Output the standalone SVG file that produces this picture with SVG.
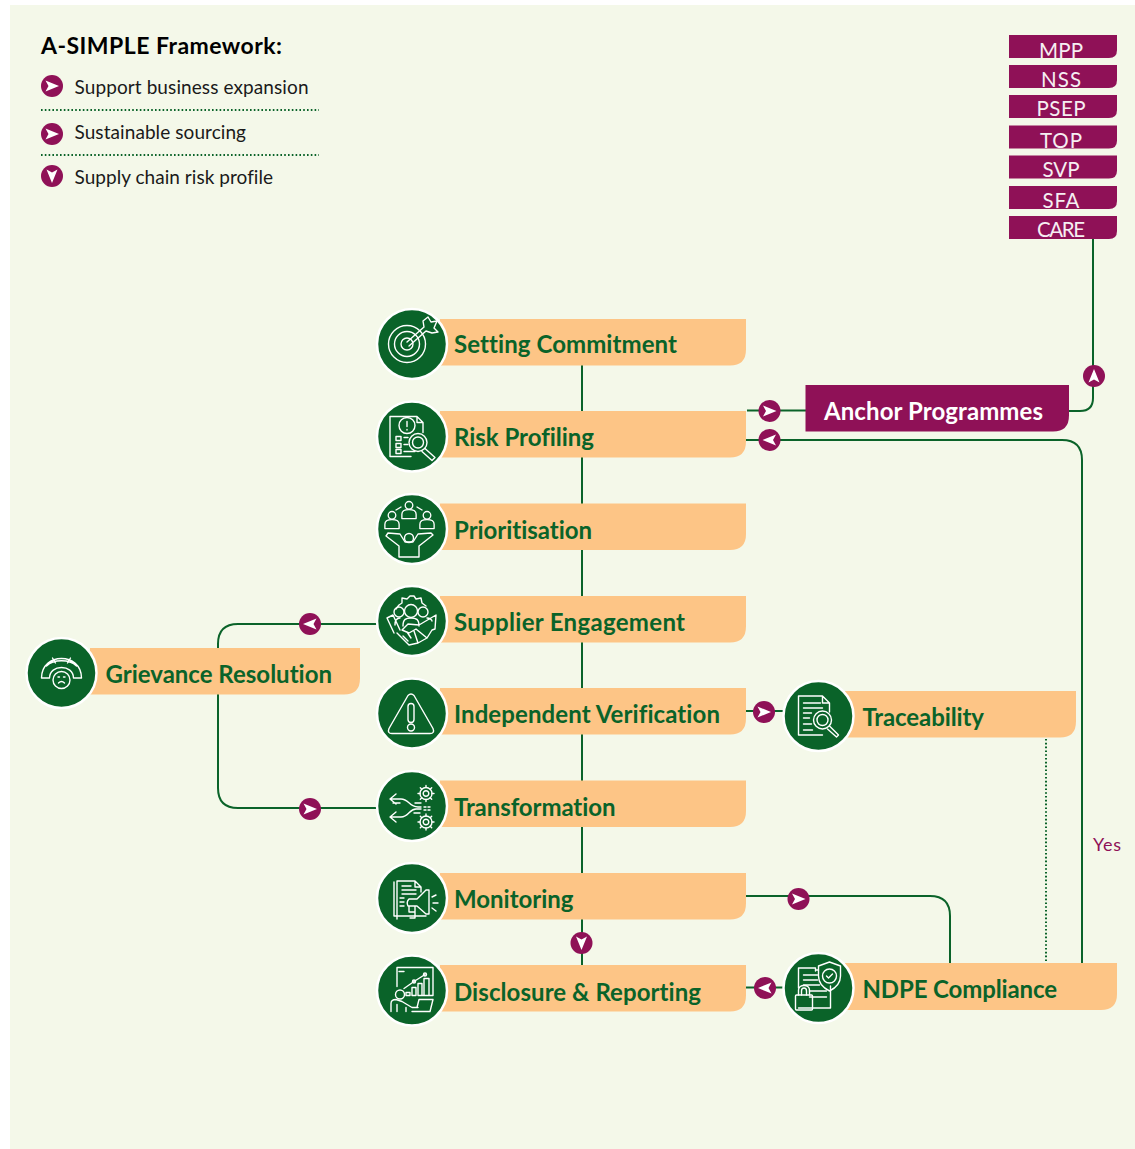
<svg xmlns="http://www.w3.org/2000/svg" width="1135" height="1149" viewBox="0 0 1135 1149">
<style>
text{font-family:Lato,"Open Sans","Liberation Sans",sans-serif;font-variant-ligatures:none}
.bar{fill:#fdc586}
.lbl{fill:#0a6329;font-size:24px;font-weight:700}
.tab{fill:#8f1157}
.tabt{fill:#f6eef2;font-size:20.500px;text-anchor:middle}
.leg{fill:#1a1a1a;font-size:19px}
.c{fill:none;stroke:#0a6329;stroke-width:2}
.d{fill:none;stroke:#0a6329;stroke-width:2;stroke-dasharray:1.6 2.2}
.disc{fill:#0a6329;stroke:#fff;stroke-width:2.500}
.i{fill:none;stroke:#fff;stroke-width:1.400;stroke-linecap:round;stroke-linejoin:round}
</style>
<defs>
<g id="r"><circle r="11" fill="#8f1157"/><path d="M-6.500-5.500 7 0-6.500 5.500-3.500 0Z" fill="#fff"/></g>
<g id="l"><use href="#r" transform="rotate(180)"/></g>
<g id="u"><use href="#r" transform="rotate(-90)"/></g>
<g id="dn"><use href="#r" transform="rotate(90)"/></g>
<g id="gear"><circle r="2.800"/><circle r="6"/><path d="M0-6V-8M0 6V8M-6 0H-8M6 0H8M-4.200-4.200-5.700-5.700M4.200-4.200 5.700-5.700M-4.200 4.200-5.700 5.700M4.200 4.200 5.700 5.700"/></g>
<g id="person"><circle cy="-6" r="4"/><path d="M-7.500 8V3.500C-7.500-.5-4-1.500 0-1.500S7.500-.5 7.500 3.500V8Z"/></g>
</defs>

<rect x="10" y="5" width="1125" height="1144" fill="#f4f8e9"/>

<g id="legend">
<text x="41" y="54" fill="#000" font-size="23" font-weight="700" textLength="241">A-SIMPLE Framework:</text>
<use href="#r" x="52" y="86"/><text class="leg" x="74.500" y="94" textLength="234">Support business expansion</text>
<path class="d" d="M41 110H319"/>
<use href="#r" x="52" y="134"/><text class="leg" x="74.500" y="139" textLength="171.500">Sustainable sourcing</text>
<path class="d" d="M41 155H319"/>
<use href="#dn" x="52" y="176"/><text class="leg" x="74.500" y="184" textLength="198.500">Supply chain risk profile</text>
</g>

<g id="connectors">
<path class="c" d="M582 365V965"/>
<path class="c" d="M1069 411H1080Q1093 411 1093 398V238"/>
<path class="c" d="M747 410.500H806"/>
<path class="c" d="M746 440H1062Q1082 440 1082 460V963"/>
<path class="c" d="M378 624H238Q218 624 218 644V788Q218 808 238 808H378"/>
<path class="c" d="M746 711H784"/>
<path class="c" d="M746 896H930Q950 896 950 916V963"/>
<path class="c" d="M746 987.500H784"/>
<path class="d" d="M1046 739V963"/>
<use href="#u" x="1094" y="376"/>
<use href="#r" x="769.500" y="411"/>
<use href="#l" x="769.500" y="440"/>
<use href="#l" x="310" y="624"/>
<use href="#r" x="310" y="809"/>
<use href="#r" x="764" y="712"/>
<use href="#r" x="798.500" y="899"/>
<use href="#l" x="765" y="988"/>
<use href="#dn" x="581.500" y="943"/>
<text x="1093" y="851" fill="#8f1157" font-size="18" textLength="28">Yes</text>
</g>

<g id="tabs">
<path class="tab" d="M1009 35H1117V50Q1117 58 1109 58H1009Z"/><text class="tabt" x="1061" y="57.500" textLength="44">MPP</text>
<path class="tab" d="M1009 65H1117V80Q1117 88 1109 88H1009Z"/><text class="tabt" x="1061" y="87" textLength="40">NSS</text>
<path class="tab" d="M1009 95H1117V110Q1117 118 1109 118H1009Z"/><text class="tabt" x="1061" y="116" textLength="49">PSEP</text>
<path class="tab" d="M1009 125.500H1117V140.500Q1117 148.500 1109 148.500H1009Z"/><text class="tabt" x="1061" y="147.500" textLength="42">TOP</text>
<path class="tab" d="M1009 155.500H1117V170.500Q1117 178.500 1109 178.500H1009Z"/><text class="tabt" x="1061" y="177" textLength="37">SVP</text>
<path class="tab" d="M1009 186H1117V201Q1117 209 1109 209H1009Z"/><text class="tabt" x="1061" y="208" textLength="37">SFA</text>
<path class="tab" d="M1009 216H1117V231Q1117 239 1109 239H1009Z"/><text class="tabt" x="1061" y="237" textLength="48">CARE</text>
</g>

<g id="anchor-programmes">
<path class="tab" d="M805.500 385H1069V415.500Q1069 431.500 1053 431.500H805.500Z"/>
<text x="824" y="420" fill="#fff" font-size="24" font-weight="700" textLength="219">Anchor Programmes</text>
</g>

<g id="setting-commitment">
<path class="bar" d="M440 319H746V349.500Q746 365.500 730 365.500H440Z"/>
<circle class="disc" cx="412" cy="344" r="35"/>
<g class="i" transform="translate(412 344)"><circle cx="-5" r="18.500"/><circle cx="-5" r="12.500"/><circle cx="-5" r="6"/><path d="M-5-2 12-17M-3 2 14-13M12-17 11-23 16-27 19-22 25-23 22-16 26-12 20-11 14-13"/></g>
<text class="lbl" x="454" y="353" textLength="223">Setting Commitment</text>
</g>

<g id="risk-profiling">
<path class="bar" d="M440 411H746V441.500Q746 457.500 730 457.500H440Z"/>
<circle class="disc" cx="412" cy="436.500" r="35"/>
<g class="i" transform="translate(412 436.500)"><path d="M-1 20H-22V-20H5L11-14V-4M5-20V-14H11"/><circle cx="-5" cy="-11" r="8"/><path d="M-5-15V-10M-5-7V-6.500M-16 0H-11V4H-16ZM-16 7H-11V11H-16ZM-16 13H-11V17H-16ZM-8 1H-4M-8 8H-4M-8 15H3"/><circle cx="6" cy="6" r="9"/><circle cx="6" cy="6" r="5.500"/><path d="M13 12 23 21 20 24 10 15"/></g>
<text class="lbl" x="454" y="446" textLength="140">Risk Profiling</text>
</g>

<g id="prioritisation">
<path class="bar" d="M440 503.500H746V534Q746 550 730 550H440Z"/>
<circle class="disc" cx="412" cy="529" r="35"/>
<g class="i" transform="translate(412 529)"><use href="#person" transform="translate(-3 -18) scale(.95)"/><use href="#person" transform="translate(-20 -8) scale(.95)"/><use href="#person" transform="translate(15 -8) scale(.95)"/><path d="M-16-19-11-22M5-22 10-19"/><circle cx="-3" cy="9" r="4.500"/><path d="M-13 28V17L-26 7-24 4-12 5-7 13H1L6 5 19 4 21 6 7 17V28Z"/></g>
<text class="lbl" x="454" y="539" textLength="138">Prioritisation</text>
</g>

<g id="supplier-engagement">
<path class="bar" d="M440 596H746V626.500Q746 642.500 730 642.500H440Z"/>
<circle class="disc" cx="412" cy="621" r="35"/>
<g class="i" transform="translate(412 621)"><path d="M-16-12-13-16-10-18-10-23-5-22-2-25 2-25 4-22 9-23 10-18 14-15"/><circle cx="-1" cy="-10" r="6.500"/><circle cx="-13" cy="-9" r="5"/><circle cx="11" cy="-9" r="5"/><path d="M-9 5C-9-2-6-3-1-3S7-2 7 5M-17 4C-17-1-15-3-12-3M15-3C18-3 20-1 20 0M-18 12-25-3-19-6-12 9M24-6 7 4-4 3-10 9-3 12 4 8 15 17 20 9 23 8ZM-15 12-3 24 6 22 15 17M-9 15-4 20M-5 11-1 17M2 10 6 22"/></g>
<text class="lbl" x="454" y="631" textLength="231">Supplier Engagement</text>
</g>

<g id="independent-verification">
<path class="bar" d="M440 688H746V718.500Q746 734.500 730 734.500H440Z"/>
<circle class="disc" cx="412" cy="713.500" r="35"/>
<g class="i" transform="translate(411 713.500)"><path d="M-3-18Q0-21 3-18L22 15Q24 20 19 20H-19Q-24 20-22 15Z"/><rect x="-3" y="-10" width="6" height="19" rx="3"/><circle cy="14" r="3.500"/></g>
<text class="lbl" x="454" y="723" textLength="266">Independent Verification</text>
</g>

<g id="transformation">
<path class="bar" d="M440 780.500H746V811Q746 827 730 827H440Z"/>
<circle class="disc" cx="412" cy="806" r="35"/>
<g class="i" transform="translate(412 806)"><use href="#gear" transform="translate(14 -12.500)"/><use href="#gear" transform="translate(14 16)"/><path d="M-22-7H-11C-3-7-3 1 6 1H9M-16-12-22-7-16-2M-22 11H-11C-3 11-3 3 4 3H9M-16 6-22 11-16 16M9-3H3M-12-3H-19M8 7H2M12 1H14M12 4H14M16 1H18M16 4H18"/></g>
<text class="lbl" x="454" y="816" textLength="161.500">Transformation</text>
</g>

<g id="monitoring">
<path class="bar" d="M440 873H746V903.500Q746 919.500 730 919.500H440Z"/>
<circle class="disc" cx="412" cy="898" r="35"/>
<g class="i" transform="translate(412 898)"><path d="M-18-16V18H14M-15 21V-17H3L9-11V-6M3-17V-11H9M-10-12H-1M-10-8H4M-10-4H4M-12 0H-8M-12 4H-8M-12 8H-8M-3 1H5L14-8H17V16H14L5 8H-4Q-6 4-3 1ZM-3 8V14H3V20M3 9V20H-2M20-1 24-3M21 5H26M20 10 24 13"/></g>
<text class="lbl" x="454" y="908" textLength="119.500">Monitoring</text>
</g>

<g id="disclosure-reporting">
<path class="bar" d="M440 965H746V995.500Q746 1011.500 730 1011.500H440Z"/>
<circle class="disc" cx="412" cy="990.500" r="35"/>
<g class="i" transform="translate(412 990.500)"><path d="M-15-4V-23H21V5H8M-13-19H-8M-8-2 2-9 13-16M-6 5V2H-2V5ZM0 5V-3H4V5ZM6 5V-7H10V5ZM12 5V-12H17V5Z"/><circle cx="-12" cy="4" r="4.500"/><circle cx="2" cy="-9" r="1.500"/><circle cx="13" cy="-16" r="1.500"/><path d="M-21 21V13Q-21 9-16 9L-10 11 0 17H6M-15 21V14M-6 21V17M0 21H18L21 9H7L5 17"/></g>
<text class="lbl" x="454" y="1001" textLength="247">Disclosure &amp; Reporting</text>
</g>

<g id="grievance-resolution">
<path class="bar" d="M90 648H360V678.500Q360 694.500 344 694.500H90Z"/>
<circle class="disc" cx="61.500" cy="673" r="35"/>
<g class="i" transform="translate(61.500 673)"><path d="M-20 5C-20-21 20-21 20 5H12C12-9-12-9-12 5ZM-15-7C-8-14 8-14 15-7M-9-15-6-10M9-15 6-10"/><circle cy="7" r="8.500" fill="#0a6329"/><path d="M-3 10Q0 7 3 10M-3.500 4H-2M3.500 4H2"/></g>
<text class="lbl" x="105.500" y="683" textLength="226.500">Grievance Resolution</text>
</g>

<g id="traceability">
<path class="bar" d="M845 691H1076V721.500Q1076 737.500 1060 737.500H845Z"/>
<circle class="disc" cx="818.500" cy="716" r="35"/>
<g class="i" transform="translate(818.500 716)"><path d="M4 19H-20V-20H4L11-13V-4M4-20V-13H11M-15-13H2M-15-8H-2M-15-3H-7M-15 2H-9M-15 8H-7M-15 14H-6M-2-8H4"/><circle cx="4" cy="4" r="9"/><circle cx="4" cy="4" r="5.500"/><path d="M11 10 20 19 18 21 9 13"/></g>
<text class="lbl" x="862.500" y="726" textLength="121.500">Traceability</text>
</g>

<g id="ndpe-compliance">
<path class="bar" d="M845 963H1117V994Q1117 1010 1101 1010H845Z"/>
<circle class="disc" cx="818.500" cy="988" r="35"/>
<g class="i" transform="translate(818.500 988)"><path d="M-3-17V-20H-20V0M-3-18H0M-20 20H12V-2M-15-13H-1M-15-8H-1M-15-3H1M-9 3H8M-9 9H8"/><path d="M11-26 22-22V-12C22-3 15 1 11 3 7 1 0-3 0-12V-22Z"/><circle cx="11" cy="-12" r="7"/><path d="M8-12 10-10 14-14"/><rect x="-23" y="7" width="17" height="15" rx="1"/><path d="M-20 7V2C-20-4-9-4-9 2V7M-17 7V3C-17-1-12-1-12 3V7"/></g>
<text class="lbl" x="862.500" y="998" textLength="194.500">NDPE Compliance</text>
</g>
</svg>
